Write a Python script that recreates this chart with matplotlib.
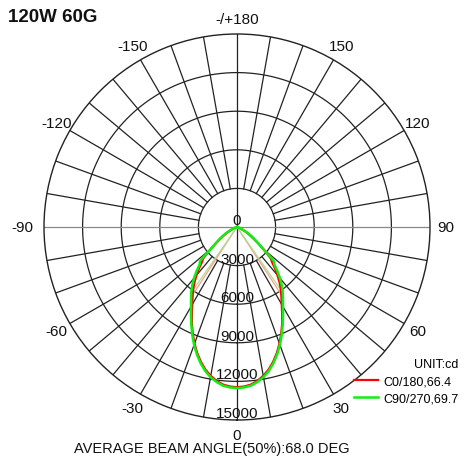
import numpy as np
import matplotlib
matplotlib.use("Agg")
import matplotlib.pyplot as plt

plt.rcParams['font.family'] = ['Liberation Sans', 'DejaVu Sans']

# Luminous intensity (cd) vs. angle from nadir, one half of each plane (symmetric)
c0_angles = [0, 2.5, 5, 7.5, 10, 12.5, 15, 17.5, 20, 22.5, 25, 27.5, 30, 32.5, 35,
             37.5, 40, 42.5, 45, 47, 48, 50, 52.5, 55, 57.5, 60, 62.5, 65, 67.5, 70,
             75, 80, 90]
c0_values = [12450, 12410, 12300, 12070, 11750, 11350, 10850, 10280, 9650, 8980,
             8300, 7600, 6950, 6420, 5950, 5430, 4900, 4380, 3850, 3600, 3250, 2700,
             2050, 1550, 1200, 900, 630, 400, 240, 130, 40, 10, 0]

c90_angles = [0, 2.5, 5, 7.5, 10, 12.5, 15, 17.5, 20, 22.5, 25, 27.5, 30, 32.5, 35,
              37.5, 40, 42.5, 45, 47, 48, 50, 52.5, 55, 57.5, 60, 62.5, 65, 67.5, 70,
              75, 80, 90]
c90_values = [12520, 12480, 12380, 12150, 11850, 11450, 10950, 10380, 9750, 9080,
              8400, 7750, 7150, 6650, 6200, 5720, 5200, 4650, 4100, 3950, 3600, 2600,
              2100, 1700, 1350, 1050, 750, 480, 280, 150, 40, 10, 0]

beam_angles = [66.4, 69.7]
series_labels = ['C0/180,66.4', 'C90/270,69.7']
ring_values = [0, 3000, 6000, 9000, 12000, 15000]
angle_ticks = [0, 30, 60, 90, 120, 150, 180, 210, 240, 270, 300, 330]
angle_labels = ['0', '30', '60', '90', '120', '150', '-/+180',
                '-150', '-120', '-90', '-60', '-30']

RMAX = 15000
RED = '#ff0000'
GREEN = '#11ee11'

fig = plt.figure(figsize=(4.68, 4.60), dpi=100)
# center at (237, 228) px, radius 193 px
ax = fig.add_axes([(237 - 193) / 468, (460 - 228 - 193) / 460, 386 / 468, 386 / 460],
                  projection='polar')
ax.set_theta_zero_location('S')
ax.set_theta_direction(1)
ax.set_ylim(0, RMAX)
ax.grid(False)
ax.set_xticks([])
ax.set_yticks([])
ax.spines['polar'].set_linewidth(1.0)
ax.spines['polar'].set_color('#222222')

# rings
th = np.linspace(0, 2 * np.pi, 400)
for r in ring_values[1:-1]:
    ax.plot(th, np.full_like(th, r), color='#222222', lw=0.9, zorder=1)

# spokes every 10 deg
for a in range(0, 360, 10):
    t = np.deg2rad(a)
    if a in (0, 180):
        ax.plot([t, t], [0, RMAX], color='#222222', lw=0.9, zorder=1)
    elif a in (90, 270):
        ax.plot([t, t], [0, RMAX], color='#888888', lw=0.9, zorder=1)
    else:
        ax.plot([t, t], [3000, RMAX], color='#222222', lw=0.9, zorder=1)

# angle labels
for a, lab in zip(angle_ticks, angle_labels):
    rr = 16700 if a == 270 else 16200
    ax.text(np.deg2rad(a), rr, lab, ha='center', va='center', fontsize=11,
            color='#111111', clip_on=False)

# radial labels
for v in ring_values:
    ax.annotate(str(v), xy=(0, v), xytext=(0, 5), textcoords='offset points',
                ha='center', va='center', fontsize=11, color='#111111',
                annotation_clip=False)


def full_curve(angles, values):
    a = np.array(angles, dtype=float)
    v = np.array(values, dtype=float)
    t = np.concatenate([-a[::-1], a[1:]])
    r = np.concatenate([v[::-1], v[1:]])
    return np.deg2rad(t), r


# beam angle lines
for (angles, values), beam, col in zip([(c0_angles, c0_values), (c90_angles, c90_values)],
                                        beam_angles, ['#f2a090', '#b0dc90']):
    half = beam / 2
    rv = np.interp(half, angles, values)
    for s in (-1, 1):
        ax.plot([0, np.deg2rad(s * half)], [0, rv], color=col, lw=0.9, zorder=2)

t, r = full_curve(c0_angles, c0_values)
ax.plot(t, r, color=RED, lw=1.6, zorder=3, label=series_labels[0])
t, r = full_curve(c90_angles, c90_values)
ax.plot(t, r, color=GREEN, lw=1.8, zorder=4, label=series_labels[1])

leg = fig.legend(loc='upper right', bbox_to_anchor=(0.995, 1 - 351 / 460),
                 frameon=False, fontsize=9, title='UNIT:cd', title_fontsize=9,
                 alignment='right', handlelength=1.9, handletextpad=0.4,
                 labelspacing=0.45, borderaxespad=0.2)

fig.text(8 / 468, 1 - 18 / 460, '120W 60G', fontsize=13.5, fontweight='bold',
         ha='left', va='center', color='#111111')
fig.text(212 / 468, 1 - 449 / 460, 'AVERAGE BEAM ANGLE(50%):68.0 DEG', fontsize=10.5,
         ha='center', va='center', color='#111111')

fig.savefig('out.png', dpi=100)
